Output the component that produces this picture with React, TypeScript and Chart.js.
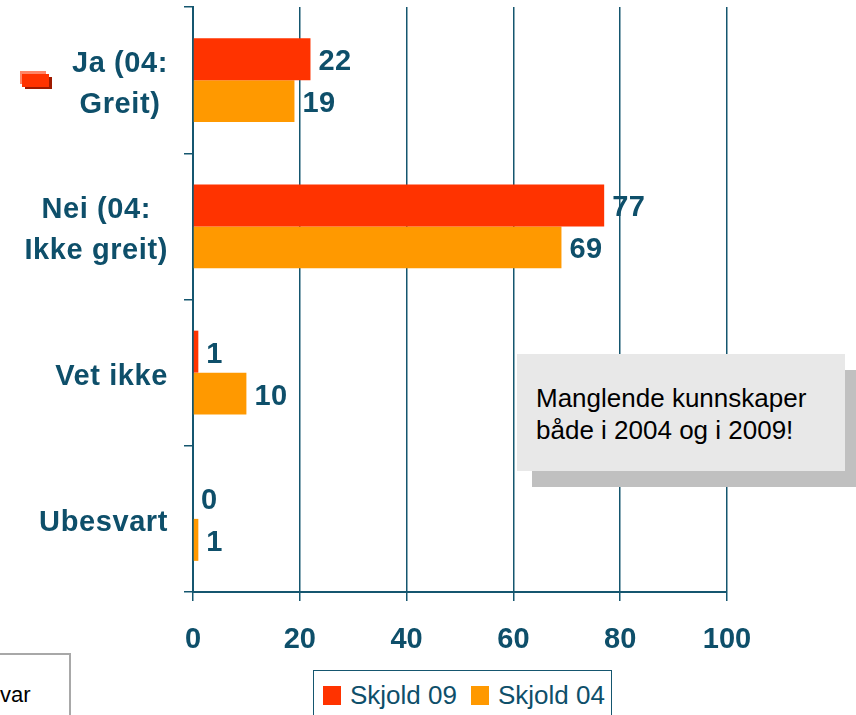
import React, { useEffect, useRef } from "react";
import { Chart, registerables } from "chart.js";

Chart.register(...registerables);

// ---- data ----
const categories: string[][] = [
  ["Ja (04:", "Greit)"],
  ["Nei (04:", "Ikke greit)"],
  ["Vet ikke"],
  ["Ubesvart"],
];
const seriesNames = ["Skjold 09", "Skjold 04"];
const skjold09 = [22, 77, 1, 0];
const skjold04 = [19, 69, 10, 1];
const xTickValues = [0, 20, 40, 60, 80, 100];
const annotationLines = ["Manglende kunnskaper", "både i 2004 og i 2009!"];
const cornerText = "svar";

// ---- styles ----
const seriesColors = ["#ff3300", "#ff9900"];
const TEAL = "#0e4f6a";
const LINE = "#15566f";
const FONT = "'Liberation Sans', Arial, sans-serif";

const valueLabelPlugin = {
  id: "valueLabels",
  afterDatasetsDraw(chart: any) {
    const ctx = chart.ctx;
    ctx.save();
    ctx.font = `bold 29px ${FONT}`;
    (ctx as any).letterSpacing = "0.5px";
    ctx.fillStyle = TEAL;
    ctx.textAlign = "left";
    ctx.textBaseline = "alphabetic";
    chart.data.datasets.forEach((ds: any, di: number) => {
      const meta = chart.getDatasetMeta(di);
      meta.data.forEach((bar: any, i: number) => {
        ctx.fillText(String(ds.data[i]), bar.x + 8, bar.y + 11);
      });
    });
    ctx.restore();
  },
};

const yLabelPlugin = {
  id: "yLabels",
  afterDraw(chart: any) {
    const ctx = chart.ctx;
    const ys = chart.scales.y;
    ctx.save();
    ctx.font = `bold 29px ${FONT}`;
    (ctx as any).letterSpacing = "0.6px";
    ctx.fillStyle = TEAL;
    ctx.textAlign = "center";
    ctx.textBaseline = "alphabetic";
    const rightEdge = ys.right - 25;
    categories.forEach((lines, i) => {
      const cy = ys.getPixelForValue(i);
      const w = Math.max(...lines.map((l) => ctx.measureText(l).width));
      const cx = rightEdge - w / 2;
      lines.forEach((l, j) => {
        ctx.fillText(l, cx, cy + (j - (lines.length - 1) / 2) * 41 + 12.5);
      });
    });
    ctx.restore();
  },
};

function BarChart() {
  const ref = useRef<HTMLCanvasElement | null>(null);
  useEffect(() => {
    if (!ref.current) return;
    const chart = new Chart(ref.current, {
      type: "bar",
      data: {
        labels: categories.map((c) => c.join(" ")),
        datasets: [
          {
            label: seriesNames[0],
            data: skjold09,
            backgroundColor: seriesColors[0],
            categoryPercentage: 0.574,
            barPercentage: 1,
          },
          {
            label: seriesNames[1],
            data: skjold04,
            backgroundColor: seriesColors[1],
            categoryPercentage: 0.574,
            barPercentage: 1,
          },
        ],
      },
      options: {
        indexAxis: "y",
        responsive: false,
        animation: false,
        devicePixelRatio: 1,
        layout: { padding: { left: 0, top: 7, right: 129, bottom: 0 } },
        plugins: {
          legend: { display: false },
          tooltip: { enabled: false },
        },
        scales: {
          x: {
            type: "linear",
            min: 0,
            max: 100,
            afterBuildTicks: (scale: any) => {
              scale.ticks = xTickValues.map((v) => ({ value: v }));
            },
            afterFit: (scale: any) => {
              scale.height = 123;
            },
            grid: {
              color: LINE,
              lineWidth: 1.5,
              drawTicks: true,
              tickLength: 9,
              tickColor: LINE,
            },
            border: { display: true, color: LINE, width: 2 },
            ticks: {
              color: TEAL,
              font: { family: FONT, size: 29, weight: "bold" },
              padding: 22,
              maxRotation: 0,
            },
          },
          y: {
            type: "category",
            afterFit: (scale: any) => {
              scale.width = 193;
            },
            grid: {
              drawOnChartArea: false,
              drawTicks: true,
              tickLength: 9,
              color: LINE,
              lineWidth: 1.5,
              offset: true,
            },
            border: { display: true, color: LINE, width: 2 },
            ticks: { display: false },
          },
        },
      } as any,
      plugins: [valueLabelPlugin, yLabelPlugin],
    });
    return () => chart.destroy();
  }, []);
  return (
    <canvas
      ref={ref}
      width={856}
      height={715}
      style={{ position: "absolute", left: 0, top: 0, width: 856, height: 715 }}
    />
  );
}

export default function App() {
  const abs = (s: React.CSSProperties): React.CSSProperties => ({ position: "absolute", ...s });
  return (
    <div
      style={{
        position: "absolute",
        left: 0,
        top: 0,
        width: 856,
        height: 715,
        overflow: "hidden",
        background: "#ffffff",
        fontFamily: FONT,
      }}
    >
      <BarChart />
      {/* small decorative marker */}
      <div style={abs({ left: 20, top: 71, width: 26, height: 13, background: "#ff8466" })} />
      <div style={abs({ left: 25, top: 77, width: 27, height: 12, background: "#9e1a00" })} />
      <div style={abs({ left: 22, top: 74, width: 27, height: 13, background: "#ff3300" })} />

      {/* annotation */}
      <div style={abs({ left: 532, top: 370, width: 324, height: 117, background: "#c0c0c0" })} />
      <div
        style={abs({
          left: 517,
          top: 354,
          width: 328,
          height: 117,
          background: "#e8e8e8",
          boxSizing: "border-box",
          paddingLeft: 19,
          paddingTop: 28,
          fontSize: 26,
          lineHeight: "32px",
          color: "#000",
          whiteSpace: "nowrap",
        })}
      >
        {annotationLines.map((l, i) => (
          <div key={i}>{l}</div>
        ))}
      </div>

      {/* partial box bottom-left */}
      <div
        style={abs({
          left: -20,
          top: 653,
          width: 91,
          height: 90,
          border: "2px solid #a8a8a8",
          boxSizing: "border-box",
          background: "#fff",
        })}
      />
      <div style={abs({ left: -11, top: 683, fontSize: 22, lineHeight: "24px", color: "#000" })}>{cornerText}</div>

      {/* legend */}
      <div
        style={abs({
          left: 313,
          top: 670,
          width: 299,
          height: 70,
          border: `1.5px solid ${LINE}`,
          boxSizing: "border-box",
          background: "#fff",
        })}
      />
      {seriesNames.map((n, i) => {
        const x = i === 0 ? 323 : 471;
        return (
          <React.Fragment key={n}>
            <div style={abs({ left: x, top: 686, width: 18, height: 19, background: seriesColors[i] })} />
            <div
              style={abs({
                left: x + 27,
                top: 680,
                fontSize: 26,
                lineHeight: "30px",
                color: TEAL,
                whiteSpace: "nowrap",
              })}
            >
              {n}
            </div>
          </React.Fragment>
        );
      })}
    </div>
  );
}
